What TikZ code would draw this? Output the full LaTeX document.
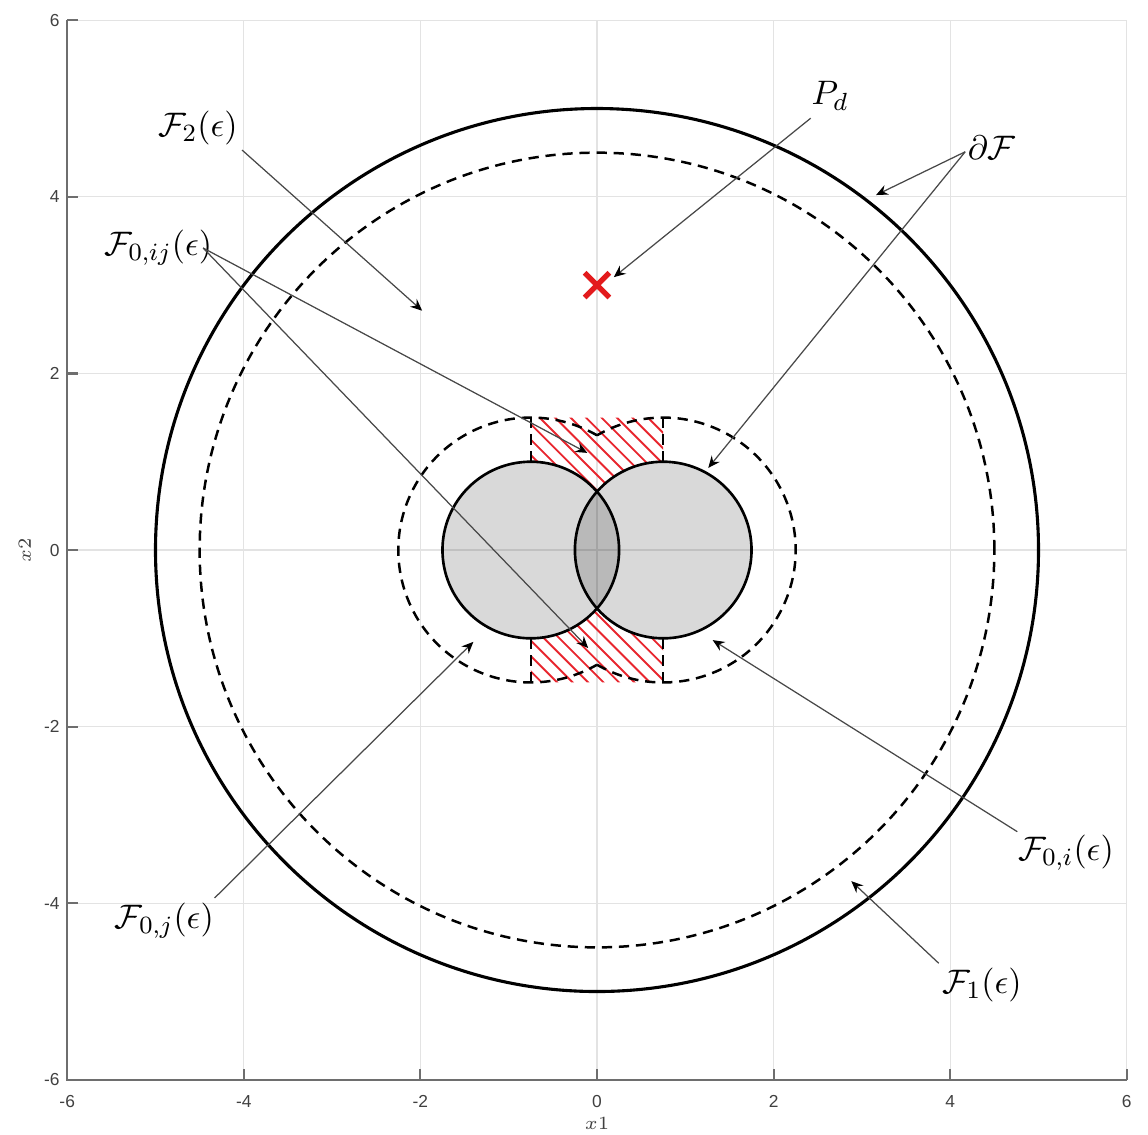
\documentclass[tikz,border=0pt]{standalone}
\usepackage{fontspec}
\newfontfamily\tickfont{Liberation Sans}
\usetikzlibrary{arrows.meta}
\definecolor{gridc}{HTML}{E3E3E3}
\definecolor{axisc}{HTML}{6E6E6E}
\definecolor{tickc}{HTML}{404040}
\definecolor{hatchc}{HTML}{E8262E}
\definecolor{markc}{HTML}{E31A1C}
\definecolor{annc}{HTML}{484848}
\begin{document}
\begin{tikzpicture}[x=1cm,y=1cm,
  gridline/.style={gridc, line width=0.35pt},
  axisline/.style={axisc, line width=0.7pt},
  ticklab/.style={font=\tickfont\fontsize{5.6}{6}\selectfont, text=tickc, inner sep=0pt},
  axlab/.style={font=\fontsize{6}{7}\selectfont, text=tickc, inner sep=0pt},
  bigcirc/.style={black, line width=1pt},
  dashc/.style={black, line width=0.8pt, dash pattern=on 3.3pt off 2.2pt},
  solidline/.style={black, line width=0.85pt},
  solidfill/.style={fill=black, fill opacity=0.15},
  hatchline/.style={hatchc, line width=0.6pt},
  ann/.style={annc, line width=0.4pt, -{Stealth[length=3.8pt,width=3.3pt,inset=1.3pt,color=black]}},
  lab/.style={font=\fontsize{11}{13}\selectfont, inner sep=0pt},
]
\useasboundingbox (-6.761,-6.614) rectangle (6.240,6.229);

% grid
\foreach \t in {-6,-4,...,6} {
  \draw[gridline] (\t,-6) -- (\t,6);
  \draw[gridline] (-6,\t) -- (6,\t);
}
% axes
\draw[axisline] (-6,6) -- (-6,-6) -- (6,-6);
\foreach \t [count=\i] in {-6,-4,...,6} {
  \draw[axisline] (\t,-6) -- (\t,-5.88);
  \draw[axisline] (-6,\t) -- (-5.88,\t);
  \node[ticklab] (xt\i) at (\t,-6.25) {\t};
  \node[ticklab, anchor=east] (yt\i) at (-6.08,\t) {\t};
}
\node[axlab] (xlab) at (0,-6.50) {$x1$};
\node[axlab, rotate=90] (ylab) at (-6.48,0) {$x2$};

% outer circles
\draw[bigcirc] (0,0) circle[radius=5];
\draw[dashc] (0,0) circle[radius=4.5];

% hatched region
\begin{scope}
\clip (-0.75,1.5) -- (0.75,1.5) -- (0.75,1) arc[start angle=90,end angle=138.59,radius=1]
      arc[start angle=41.41,end angle=90,radius=1] -- cycle
      (-0.75,-1.5) -- (0.75,-1.5) -- (0.75,-1) arc[start angle=-90,end angle=-138.59,radius=1]
      arc[start angle=-41.41,end angle=-90,radius=1] -- cycle;
\foreach \c in {-3,-2.825,...,3} \draw[hatchline] (\c-2,2) -- (\c+2,-2);
\end{scope}

% dashed union boundary
\draw[dashc] (-0.75,0) ++(60:1.5) arc[start angle=60,end angle=300,radius=1.5];
\draw[dashc] (0.75,0) ++(-120:1.5) arc[start angle=-120,end angle=120,radius=1.5];
\draw[dashc] (-0.75,1) -- (-0.75,1.5);
\draw[dashc] (0.75,1) -- (0.75,1.5);
\draw[dashc] (-0.75,-1) -- (-0.75,-1.5);
\draw[dashc] (0.75,-1) -- (0.75,-1.5);

% solid circles
\fill[solidfill] (-0.75,0) circle[radius=1];
\fill[solidfill] (0.75,0) circle[radius=1];
\draw[solidline] (-0.75,0) circle[radius=1];
\draw[solidline] (0.75,0) circle[radius=1];

% marker
\draw[markc, line width=1.7pt] (-0.14,2.86) -- (0.14,3.14) (-0.14,3.14) -- (0.14,2.86);

% annotations
\node[lab] (lF2) at (-4.52,4.78) {$\mathcal{F}_2(\epsilon)$};
\coordinate (tF2) at (-4.02,4.53);
\coordinate (hF2) at (-1.98,2.71);
\draw[ann] (tF2) -- (hF2);

\node[lab] (lFij) at (-4.97,3.42) {$\mathcal{F}_{0,ij}(\epsilon)$};
\coordinate (tFij) at (-4.46,3.42);
\coordinate (hFijA) at (-0.11,1.10);
\coordinate (hFijB) at (-0.10,-1.11);
\draw[ann] (tFij) -- (hFijA);
\draw[ann] (tFij) -- (hFijB);

\node[lab] (lPd) at (2.64,5.14) {$P_d$};
\coordinate (tPd) at (2.42,4.89);
\coordinate (hPd) at (0.19,3.09);
\draw[ann] (tPd) -- (hPd);

\node[lab] (ldF) at (4.47,4.56) {$\partial\mathcal{F}$};
\coordinate (tdF) at (4.17,4.51);
\coordinate (hdFA) at (3.16,4.02);
\coordinate (hdFB) at (1.26,0.93);
\draw[ann] (tdF) -- (hdFA);
\draw[ann] (tdF) -- (hdFB);

\node[lab] (lFi) at (5.31,-3.43) {$\mathcal{F}_{0,i}(\epsilon)$};
\coordinate (tFi) at (4.76,-3.19);
\coordinate (hFi) at (1.31,-1.02);
\draw[ann] (tFi) -- (hFi);

\node[lab] (lF1) at (4.36,-4.93) {$\mathcal{F}_1(\epsilon)$};
\coordinate (tF1) at (3.87,-4.68);
\coordinate (hF1) at (2.88,-3.75);
\draw[ann] (tF1) -- (hF1);

\node[lab] (lFj) at (-4.90,-4.20) {$\mathcal{F}_{0,j}(\epsilon)$};
\coordinate (tFj) at (-4.33,-3.94);
\coordinate (hFj) at (-1.40,-1.04);
\draw[ann] (tFj) -- (hFj);
\end{tikzpicture}
\end{document}
